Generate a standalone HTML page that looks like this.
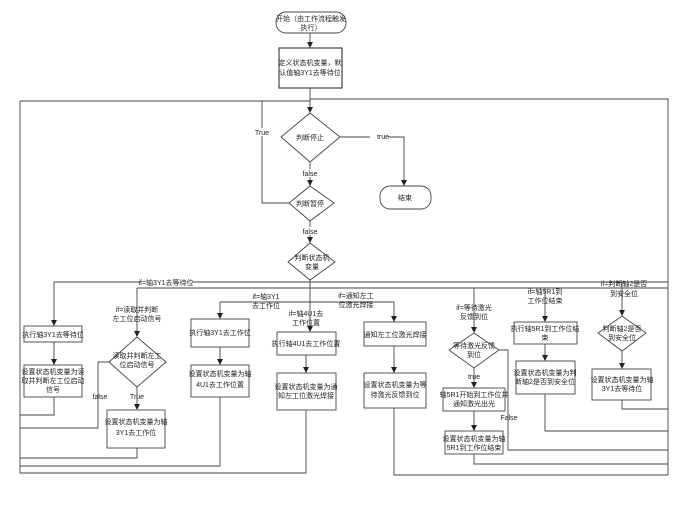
<!DOCTYPE html>
<html><head><meta charset="utf-8"><style>
html,body{margin:0;padding:0;background:#fff;}
svg text{font-family:"Liberation Sans","Noto Sans CJK SC",sans-serif;font-size:7px;fill:#222;text-anchor:middle;}
</style></head><body>
<svg width="682" height="509" viewBox="0 0 682 509" xmlns="http://www.w3.org/2000/svg">
<defs><marker id="a" markerWidth="6" markerHeight="6" refX="5" refY="3" orient="auto" markerUnits="userSpaceOnUse"><path d="M0,0 L6,3 L0,6z" fill="#222"/></marker></defs>
<g fill="none" stroke="#444" stroke-width="0.9">
<rect x="276" y="12" width="70" height="21" rx="10"/>
<rect x="279" y="48" width="63" height="40" stroke-width="1.2"/>
<line x1="310" y1="33" x2="310" y2="47" marker-end="url(#a)"/>
<line x1="310" y1="88" x2="310" y2="112" marker-end="url(#a)"/>
<polyline points="20,101 310,101"/>
<polyline points="310,99 668,99 668,475"/>
<line x1="20" y1="101" x2="20" y2="473"/>
<polygon points="310,113 340,137 310,162 281,137"/>
<polyline points="340,137 404,137 404,185" marker-end="url(#a)"/>
<rect x="380" y="186" width="51" height="23" rx="10"/>
<line x1="310" y1="162" x2="310" y2="185" marker-end="url(#a)"/>
<polygon points="310,186 334,203 310,221 289,203"/>
<polyline points="289,203 262,203 262,101"/>
<line x1="310" y1="221" x2="310" y2="242" marker-end="url(#a)"/>
<polygon points="310,243 335,262 310,280 288,262"/>
<line x1="310" y1="280" x2="310" y2="331" marker-end="url(#a)"/>
<line x1="54" y1="282" x2="668" y2="282"/>
<line x1="137" y1="288" x2="668" y2="288"/>
<line x1="220" y1="302" x2="394" y2="302"/>
<!-- col1 -->
<line x1="54" y1="282" x2="54" y2="325" marker-end="url(#a)"/>
<rect x="24" y="326" width="58" height="16"/>
<line x1="54" y1="342" x2="54" y2="364" marker-end="url(#a)"/>
<rect x="24" y="365" width="58" height="32"/>
<polyline points="54,397 54,415 20,415"/>
<!-- col2 -->
<line x1="137" y1="288" x2="137" y2="336" marker-end="url(#a)"/>
<polygon points="137,337 166,362 137,387 109,362"/>
<polyline points="109,362 98,362 98,428 20,428"/>
<line x1="137" y1="387" x2="137" y2="409" marker-end="url(#a)"/>
<rect x="107" y="410" width="58" height="38"/>
<polyline points="137,448 137,458 20,458"/>
<!-- col3 -->
<line x1="220" y1="302" x2="220" y2="318" marker-end="url(#a)"/>
<rect x="191" y="319" width="58" height="28"/>
<line x1="220" y1="347" x2="220" y2="364" marker-end="url(#a)"/>
<rect x="191" y="365" width="58" height="32"/>
<polyline points="220,397 220,466 20,466"/>
<!-- col4 -->
<rect x="277" y="332" width="59" height="23"/>
<line x1="306" y1="355" x2="306" y2="372" marker-end="url(#a)"/>
<rect x="277" y="373" width="59" height="37"/>
<polyline points="306,410 306,473 20,473"/>
<!-- col5 -->
<line x1="394" y1="302" x2="394" y2="321" marker-end="url(#a)"/>
<rect x="364" y="322" width="62" height="24"/>
<line x1="394" y1="346" x2="394" y2="372" marker-end="url(#a)"/>
<rect x="364" y="373" width="62" height="35"/>
<polyline points="394,408 394,475 668,475"/>
<!-- col6 -->
<line x1="474" y1="288" x2="474" y2="332" marker-end="url(#a)"/>
<polygon points="474,333 499,350 474,368 449,350"/>
<polyline points="499,350 508,350 508,450 668,450"/>
<line x1="474" y1="368" x2="474" y2="387" marker-end="url(#a)"/>
<rect x="443" y="388" width="62" height="23"/>
<line x1="474" y1="411" x2="474" y2="430" marker-end="url(#a)"/>
<rect x="445" y="431" width="58" height="23"/>
<polyline points="474,454 474,464 668,464"/>
<!-- col7 -->
<line x1="545" y1="288" x2="545" y2="321" marker-end="url(#a)"/>
<rect x="514" y="322" width="63" height="22"/>
<line x1="545" y1="344" x2="545" y2="360" marker-end="url(#a)"/>
<rect x="516" y="361" width="59" height="33"/>
<polyline points="545,394 545,431 668,431"/>
<!-- col8 -->
<line x1="622" y1="282" x2="622" y2="315" marker-end="url(#a)"/>
<polygon points="622,316 646,333 622,351 598,333"/>
<line x1="622" y1="351" x2="622" y2="368" marker-end="url(#a)"/>
<rect x="592" y="369" width="59" height="31"/>
<polyline points="622,400 622,409 668,409"/>
</g>
<g>
<rect x="370" y="132" width="18" height="8" fill="#fff"/>
<rect x="298" y="169" width="24" height="8" fill="#fff"/>
<rect x="298" y="227" width="24" height="8" fill="#fff"/>
<rect x="250" y="128" width="24" height="8" fill="#fff"/>
<rect x="140" y="278" width="52" height="8" fill="#fff"/>
</g>
<text x="311" y="21">开始（由工作流程触发</text><text x="311" y="30">执行）</text>
<text x="310" y="65">定义状态机变量，默</text><text x="310" y="75">认值轴3Y1去等待位</text>
<text x="310" y="140">判断停止</text>
<text x="383" y="139">true</text>
<text x="405" y="200">结束</text>
<text x="310" y="176">false</text>
<text x="262" y="135">True</text>
<text x="310" y="206">判断暂停</text>
<text x="310" y="234">false</text>
<text x="312" y="260">判断状态机</text><text x="312" y="269">变量</text>
<text x="166" y="285">if=轴3Y1去等待位</text>
<text x="53" y="337">执行轴3Y1去等待位</text>
<text x="53" y="374">设置状态机变量为读</text><text x="53" y="383">取并判断左工位启动</text><text x="53" y="392">信号</text>
<text x="137" y="312">if=读取并判断</text><text x="137" y="321">左工位启动信号</text>
<text x="137" y="358">读取并判断左工</text><text x="137" y="367">位启动信号</text>
<text x="100" y="399">false</text>
<text x="137" y="399">True</text>
<text x="136" y="424">设置状态机变量为轴</text><text x="136" y="435">3Y1去工作位</text>
<text x="266" y="299">if=轴3Y1</text><text x="266" y="308">去工作位</text>
<text x="220" y="335">执行轴3Y1去工作位</text>
<text x="220" y="376">设置状态机变量为轴</text><text x="220" y="387">4U1去工作位置</text>
<text x="306" y="316">if=轴4U1去</text><text x="306" y="325">工作位置</text>
<text x="306" y="346">执行轴4U1去工作位置</text>
<text x="306" y="389">设置状态机变量为通</text><text x="306" y="398">知左工位激光焊接</text>
<text x="356" y="298">if=通知左工</text><text x="356" y="307">位激光焊接</text>
<text x="395" y="337">通知左工位激光焊接</text>
<text x="395" y="387">设置状态机变量为等</text><text x="395" y="397">待激光反馈到位</text>
<text x="474" y="310">if=等待激光</text><text x="474" y="319">反馈到位</text>
<text x="474" y="348">等待激光反馈</text><text x="474" y="357">到位</text>
<text x="474" y="379">true</text>
<text x="474" y="397">轴5R1开始到工作位并</text><text x="474" y="406">通知激光出光</text>
<text x="509" y="420">False</text>
<text x="474" y="441">设置状态机变量为轴</text><text x="474" y="450">5R1到工作位结束</text>
<text x="545" y="294">if=轴5R1到</text><text x="545" y="303">工作位结束</text>
<text x="545" y="331">执行轴5R1到工作位结</text><text x="545" y="340">束</text>
<text x="545" y="375">设置状态机变量为判</text><text x="545" y="384">断轴2是否到安全位</text>
<text x="624" y="286">if=判断轴2是否</text><text x="624" y="296">到安全位</text>
<text x="622" y="331">判断轴2是否</text><text x="622" y="340">到安全位</text>
<text x="622" y="382">设置状态机变量为轴</text><text x="622" y="391">3Y1去等待位</text>
</svg>
</body></html>
